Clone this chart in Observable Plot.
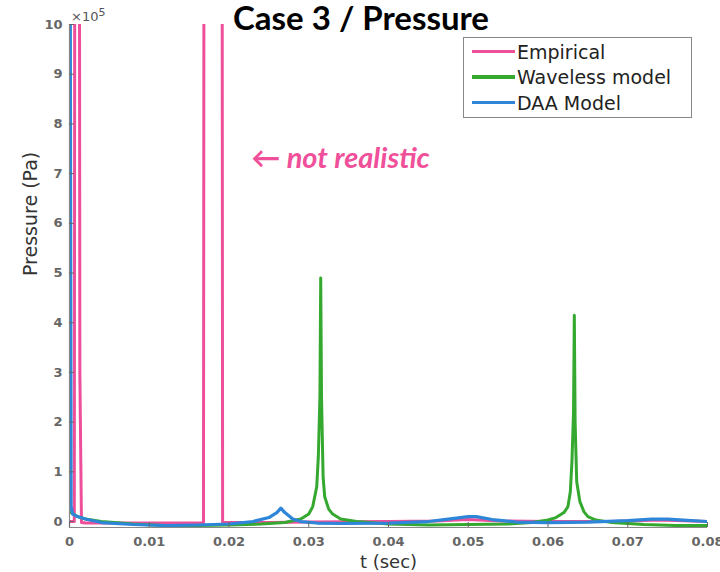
<!DOCTYPE html>
<html>
<head>
<meta charset="utf-8">
<script src="https://cdn.jsdelivr.net/npm/d3@7"></script>
<script src="https://cdn.jsdelivr.net/npm/@observablehq/plot@0.6"></script>
<style>
  body { margin: 0; background: #fff; }
  #wrap { position: relative; width: 720px; height: 572px; overflow: hidden; }
  #title { position: absolute; left: 0; width: 722px; top: -3px; line-height: 34px; text-align: center;
    font: bold 33px Lato, "Open Sans", sans-serif; color: #000; }
  #exp { position: absolute; left: 71px; top: 6px; font: 13px "DejaVu Sans", sans-serif; color: #555; }
  #legend { position: absolute; left: 463px; top: 37px; width: 229px; height: 81px;
    border: 1.5px solid #888; background: #fff; box-sizing: border-box;
    font: 19px "DejaVu Sans", sans-serif; color: #222; }
  .item { position: absolute; left: 8px; height: 25px; display: flex; align-items: center; }
  .sw { width: 43px; height: 3.5px; margin-right: 2px; }
</style>
</head>
<body>
<div id="wrap">
  <div id="chart"></div>
  <div id="title">Case 3 / Pressure</div>
  <div id="exp">×10<sup style="font-size:11px">5</sup></div>
  <div id="legend"></div>
</div>
<script>
// units of 1e5 Pa; values above 10 are off the chart (clipped)
const seriesNames = ["Empirical", "Waveless model", "DAA Model"];
const seriesColors = ["#ee4f9b", "#35a82f", "#2e86d8"];

const empT = [0, 0.0006, 0.0007, 0.0012, 0.0013, 0.0015, 0.002, 0.005, 0.010, 0.0168, 0.0169, 0.0191, 0.0192, 0.025, 0.030, 0.040, 0.046, 0.050, 0.054, 0.060, 0.068, 0.074, 0.078, 0.080];
const empP = [0, 0, 20, 20, 3, -0.02, -0.03, -0.03, -0.03, -0.03, 20, 20, -0.02, -0.02, -0.01, 0, 0.01, 0.04, 0.01, 0, 0, 0.03, 0.01, 0];

const wavT = [0, 0.0005, 0.001, 0.002, 0.004, 0.008, 0.012, 0.016, 0.020, 0.024, 0.027, 0.029, 0.030, 0.0305, 0.031, 0.0312, 0.0314, 0.0315, 0.0316, 0.0318, 0.032, 0.0325, 0.033, 0.034, 0.036, 0.040, 0.045, 0.050, 0.055, 0.058, 0.060, 0.061, 0.062, 0.0625, 0.0628, 0.063, 0.0632, 0.0633, 0.0634, 0.0636, 0.064, 0.0645, 0.065, 0.066, 0.068, 0.072, 0.076, 0.080];
const wavP = [0.2, 0.15, 0.1, 0.05, 0.0, -0.05, -0.08, -0.08, -0.07, -0.05, -0.02, 0.05, 0.15, 0.3, 0.7, 1.3, 2.5, 4.9, 2.5, 0.9, 0.5, 0.25, 0.15, 0.05, 0.0, -0.05, -0.07, -0.06, -0.05, -0.02, 0.03, 0.08, 0.18, 0.3, 0.6, 1.2, 2.2, 4.15, 2.0, 0.8, 0.4, 0.2, 0.1, 0.03, -0.02, -0.06, -0.08, -0.08];

const daaT = [0, 0.0002, 0.0004, 0.001, 0.002, 0.004, 0.008, 0.012, 0.016, 0.020, 0.023, 0.025, 0.026, 0.0265, 0.027, 0.028, 0.029, 0.031, 0.034, 0.040, 0.045, 0.048, 0.050, 0.051, 0.053, 0.056, 0.060, 0.065, 0.070, 0.073, 0.075, 0.077, 0.080];
const daaP = [20, 0.3, 0.15, 0.1, 0.05, -0.02, -0.06, -0.08, -0.07, -0.05, 0.0, 0.08, 0.18, 0.27, 0.18, 0.05, 0.0, -0.03, -0.04, -0.03, 0.0, 0.06, 0.1, 0.1, 0.04, -0.01, -0.02, -0.01, 0.02, 0.05, 0.05, 0.03, 0.0];

const xTicks = [0, 0.01, 0.02, 0.03, 0.04, 0.05, 0.06, 0.07, 0.08];
const xTickLabels = ["0", "0.01", "0.02", "0.03", "0.04", "0.05", "0.06", "0.07", "0.08"];
const yTicks = [0, 1, 2, 3, 4, 5, 6, 7, 8, 9, 10];
const annotation = "← not realistic";

const toRows = (ts, ps, name) => ts.map((t, i) => ({t, p: ps[i], name}));
const empRows = toRows(empT, empP, seriesNames[0]);
const wavRows = toRows(wavT, wavP, seriesNames[1]);
const daaRows = toRows(daaT, daaP, seriesNames[2]);

const chart = Plot.plot({
  width: 720,
  height: 572,
  marginLeft: 69,
  marginRight: 13,
  marginTop: 24,
  marginBottom: 45,
  style: {fontFamily: "'DejaVu Sans', sans-serif", background: "#fff"},
  x: {domain: [0, 0.08]},
  y: {domain: [-0.12, 10]},
  color: {domain: seriesNames, range: seriesColors},
  marks: [
    Plot.line(empRows, {x: "t", y: "p", stroke: "name", strokeWidth: 3, clip: true}),
    Plot.line(wavRows, {x: "t", y: "p", stroke: "name", strokeWidth: 3, clip: true}),
    Plot.line(daaRows, {x: "t", y: "p", stroke: "name", strokeWidth: 3.2, clip: true}),
    Plot.ruleX([0], {stroke: "#888", strokeWidth: 1.2}),
    Plot.ruleY([-0.12], {stroke: "#888", strokeWidth: 1.2}),
    Plot.axisX({ticks: xTicks, tickFormat: (d, i) => xTickLabels[i], tickSize: -5, tickPadding: 14,
      fontSize: 13, fontWeight: "bold", color: "#666", label: null}),
    Plot.axisY({ticks: yTicks, tickSize: -5, tickPadding: 12, fontSize: 13, fontWeight: "bold", color: "#666", label: null}),
    Plot.text(["t (sec)"], {frameAnchor: "bottom", dy: 40, fontSize: 18, fill: "#333"}),
    Plot.text(["Pressure (Pa)"], {frameAnchor: "left", dx: -39, rotate: -90, fontSize: 19, fill: "#333"}),
    Plot.text([annotation], {x: 0.0228, y: 7.3, textAnchor: "start", fontSize: 29, fontWeight: "bold",
      fontStyle: "italic", fill: "#f0509a", fontFamily: "Lato, 'Open Sans', sans-serif"})
  ]
});
document.getElementById("chart").appendChild(chart);

const legend = document.getElementById("legend");
seriesNames.forEach((n, i) => {
  const it = document.createElement("div");
  it.className = "item";
  it.style.top = (1 + i * 25.5) + "px";
  const sw = document.createElement("div");
  sw.className = "sw";
  sw.style.background = seriesColors[i];
  it.appendChild(sw);
  it.appendChild(document.createTextNode(n));
  legend.appendChild(it);
});
</script>
</body>
</html>
